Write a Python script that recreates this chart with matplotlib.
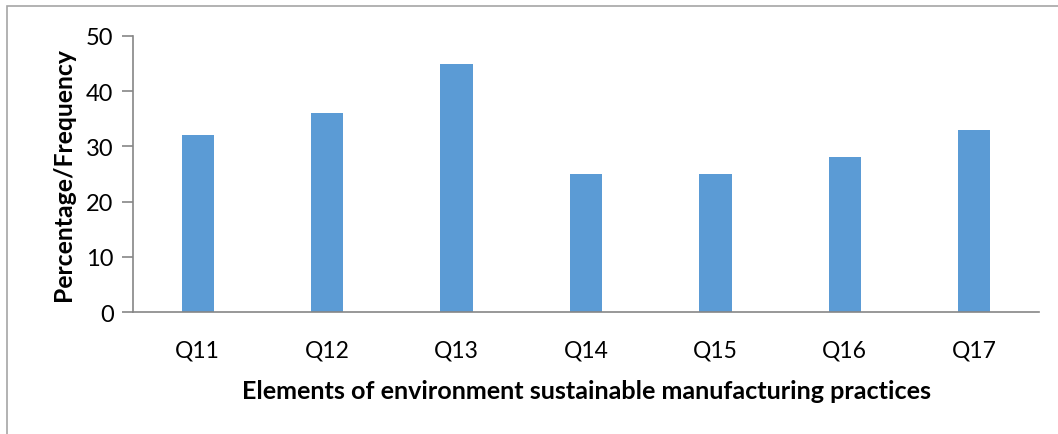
import matplotlib
matplotlib.use("Agg")
import matplotlib.pyplot as plt
from matplotlib.patches import Rectangle

categories = ["Q11", "Q12", "Q13", "Q14", "Q15", "Q16", "Q17"]
values = [32, 36, 45, 25, 25, 28, 33]
yticks = [0, 10, 20, 30, 40, 50]

W, H = 1058, 435
fig = plt.figure(figsize=(W / 100, H / 100), dpi=100)
plt.rcParams["font.family"] = ["Lato", "DejaVu Sans"]

# outer chart border (only top and left edges fall inside the canvas)
fig.patches.append(Rectangle((7 / W, -0.1), 1.2, (H - 7) / H + 0.1,
                             transform=fig.transFigure, fill=False,
                             edgecolor="#a6a6a6", linewidth=1.2))

left, right, top, bottom = 133, 1039, 37, 313
ax = fig.add_axes([left / W, 1 - bottom / H, (right - left) / W, (bottom - top) / H])

x = range(len(categories))
ax.bar(x, values, width=0.25, color="#5b9bd5")
ax.set_xlim(-0.5, len(categories) - 0.5)
ax.set_ylim(0, 50)
ax.set_yticks(yticks)
ax.set_xticks(list(x))
ax.set_xticklabels(categories)

for s in ["top", "right"]:
    ax.spines[s].set_visible(False)
for s in ["left", "bottom"]:
    ax.spines[s].set_color("#868686")
    ax.spines[s].set_linewidth(1.2)

ax.tick_params(axis="y", length=8, width=1.2, color="#868686", labelsize=17, pad=6)
ax.tick_params(axis="x", length=0, labelsize=16.5, pad=20)

ax.set_ylabel("Percentage/Frequency", fontsize=17.8, fontweight="bold", labelpad=8)
ax.set_xlabel("Elements of environment sustainable manufacturing practices",
              fontsize=18.1, fontweight="bold", labelpad=13)

fig.savefig("out.png", dpi=100, facecolor="white")
